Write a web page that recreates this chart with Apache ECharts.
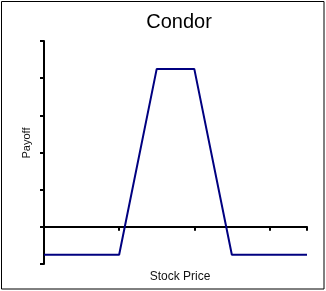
<!DOCTYPE html>
<html><head><meta charset="utf-8">
<script src="https://cdn.jsdelivr.net/npm/echarts@6/dist/echarts.min.js"></script>
<style>html,body{margin:0;padding:0;background:#fff}#c{width:326px;height:291px}</style>
</head><body><div id="c"></div>
<script>
var stockPrices = [0, 10, 15, 20, 25, 35];
var payoffs = [-0.75, -0.75, 4.25, 4.25, -0.75, -0.75];
var titleText = 'Condor';
var xName = 'Stock Price';
var yName = 'Payoff';

var chart = echarts.init(document.getElementById('c'), null, {renderer: 'canvas'});
var font = '"Liberation Sans", Arial, sans-serif';
chart.setOption({
  animation: false,
  grid: {left: 44, right: 19, top: 41, bottom: 27},
  xAxis: {
    type: 'value', min: 0, max: 35, interval: 10,
    axisLine: {show: true, onZero: true, lineStyle: {color: '#000', width: 2}},
    axisTick: {show: true, length: 4, lineStyle: {color: '#000', width: 2}},
    axisLabel: {show: false}, splitLine: {show: false}
  },
  yAxis: {
    type: 'value', min: -1, max: 5, interval: 1,
    axisLine: {show: true, onZero: false, lineStyle: {color: '#000', width: 2}},
    axisTick: {show: true, length: 4, lineStyle: {color: '#000', width: 2}},
    axisLabel: {show: false}, splitLine: {show: false}
  },
  series: [{
    type: 'line',
    data: stockPrices.map(function (x, i) { return [x, payoffs[i]]; }),
    showSymbol: false, symbol: 'none',
    lineStyle: {color: '#000080', width: 2}
  }],
  graphic: [
    {type: 'rect', shape: {x: 1.5, y: 1.5, width: 322.5, height: 287.5}, style: {fill: null, stroke: '#000', lineWidth: 1}, silent: true},
    {type: 'text', x: 179, y: 22, style: {text: titleText, font: '20px ' + font, fill: '#000', textAlign: 'center', textVerticalAlign: 'middle'}},
    {type: 'text', x: 180, y: 277, style: {text: xName, font: '12px ' + font, fill: '#111', textAlign: 'center', textVerticalAlign: 'middle'}},
    {type: 'text', x: 27, y: 143, rotation: Math.PI / 2, style: {text: yName, font: '11px ' + font, fill: '#111', textAlign: 'center', textVerticalAlign: 'middle'}}
  ]
});
</script></body></html>
